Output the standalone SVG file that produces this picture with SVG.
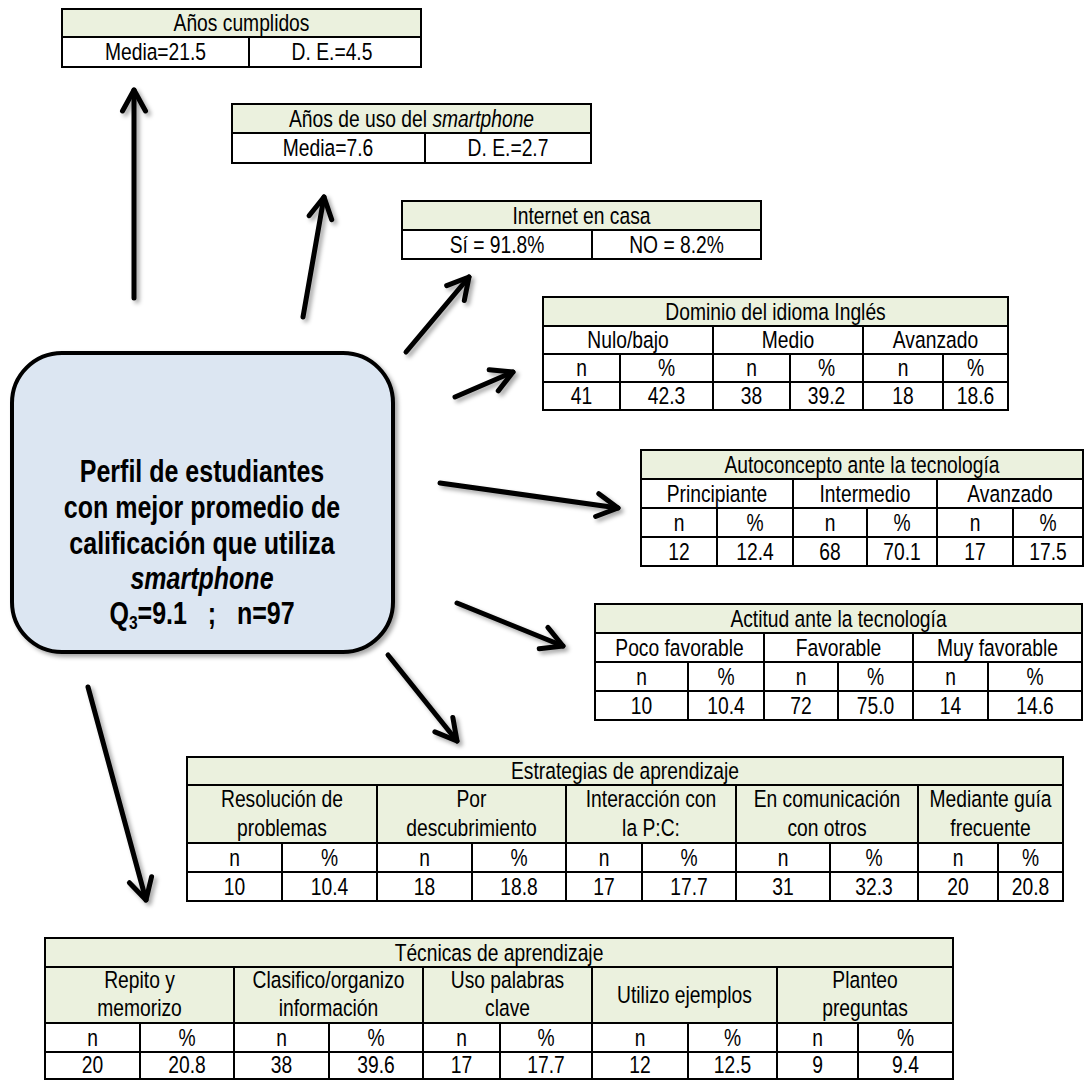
<svg xmlns="http://www.w3.org/2000/svg" width="1088" height="1080" viewBox="0 0 1088 1080">
<defs>
<style>
.t{font-family:'Liberation Sans',Arial,sans-serif;font-size:23.5px;text-anchor:middle;fill:#000}
.c{font-family:'Liberation Sans',Arial,sans-serif;font-size:30.5px;font-weight:bold;text-anchor:middle;fill:#000;white-space:pre}
.g{fill:#ebf1de;stroke:#000;stroke-width:2}
.w{fill:#fff;stroke:#000;stroke-width:2}
.a{fill:none;stroke:#000;stroke-width:5;stroke-linecap:round;marker-end:url(#ah)}
</style>
<marker id="ah" markerUnits="userSpaceOnUse" viewBox="-30 -16 36 32" refX="0" refY="0" markerWidth="36" markerHeight="32" orient="auto">
<path d="M-21,-11.5 L0,0 L-21,11.5" fill="none" stroke="#000" stroke-width="5" stroke-linecap="round" stroke-linejoin="round"/>
</marker>
<filter id="sh" x="-20%" y="-20%" width="140%" height="140%">
<feDropShadow dx="3" dy="3" stdDeviation="2" flood-color="#000" flood-opacity="0.35"/>
</filter>
</defs>
<rect width="1088" height="1080" fill="#fff"/>

<g id="connectors" filter="url(#sh)">
<path class="a" d="M134,298 L134,90"/>
<path class="a" d="M303,317 L324,197"/>
<path class="a" d="M406,352 L469,277"/>
<path class="a" d="M455,397 L513,372"/>
<path class="a" d="M440,483 L618,508"/>
<path class="a" d="M457,603 L563,646"/>
<path class="a" d="M388,655 L457,741"/>
<path class="a" d="M88,687 L146,900"/>
</g>

<g id="centro">
<rect x="12" y="353" width="381" height="299" rx="50" ry="50" fill="#dce6f2" stroke="#000" stroke-width="4" filter="url(#sh)"/>
<text class="c" transform="translate(202 482) scale(.82 1)">Perfil de estudiantes</text>
<text class="c" transform="translate(202 518) scale(.82 1)">con mejor promedio de</text>
<text class="c" transform="translate(202 554) scale(.82 1)">calificación que utiliza</text>
<text class="c" transform="translate(202 589) scale(.82 1)" font-style="italic">smartphone</text>
<text class="c" transform="translate(202 624) scale(.82 1)">Q<tspan font-size="19px" dy="5">3</tspan><tspan dy="-5">=9.1   ;   n=97</tspan></text>
</g>

<g id="anios">
<rect class="g" x="62" y="9" width="359" height="28"/>
<rect class="w" x="62" y="37" width="187" height="30"/>
<rect class="w" x="249" y="37" width="172" height="30"/>
<text class="t" transform="translate(241.5 31) scale(.82 1)">Años cumplidos</text>
<text class="t" transform="translate(155.5 60) scale(.82 1)">Media=21.5</text>
<text class="t" transform="translate(332 60) scale(.82 1)">D. E.=4.5</text>
</g>

<g id="uso">
<rect class="g" x="232" y="104" width="359" height="29"/>
<rect class="w" x="232" y="133" width="193" height="30"/>
<rect class="w" x="425" y="133" width="166" height="30"/>
<text class="t" transform="translate(411.5 126.5) scale(.82 1)">Años de uso del <tspan font-style="italic">smartphone</tspan></text>
<text class="t" transform="translate(328 156) scale(.82 1)">Media=7.6</text>
<text class="t" transform="translate(508 156) scale(.82 1)">D. E.=2.7</text>
</g>

<g id="internet">
<rect class="g" x="402" y="201" width="359" height="29"/>
<rect class="w" x="402" y="230" width="190" height="29"/>
<rect class="w" x="592" y="230" width="169" height="29"/>
<text class="t" transform="translate(581.5 223.5) scale(.82 1)">Internet en casa</text>
<text class="t" transform="translate(497 252.5) scale(.82 1)">Sí = 91.8%</text>
<text class="t" transform="translate(676.5 252.5) scale(.82 1)">NO = 8.2%</text>
</g>

<g id="ingles">
<rect class="g" x="543" y="297" width="465" height="29"/>
<rect class="w" x="543" y="326" width="170" height="28"/>
<rect class="w" x="713" y="326" width="150" height="28"/>
<rect class="w" x="863" y="326" width="145" height="28"/>
<rect class="w" x="543" y="354" width="77" height="28"/>
<rect class="w" x="620" y="354" width="93" height="28"/>
<rect class="w" x="713" y="354" width="77" height="28"/>
<rect class="w" x="790" y="354" width="73" height="28"/>
<rect class="w" x="863" y="354" width="80" height="28"/>
<rect class="w" x="943" y="354" width="65" height="28"/>
<rect class="w" x="543" y="382" width="77" height="28"/>
<rect class="w" x="620" y="382" width="93" height="28"/>
<rect class="w" x="713" y="382" width="77" height="28"/>
<rect class="w" x="790" y="382" width="73" height="28"/>
<rect class="w" x="863" y="382" width="80" height="28"/>
<rect class="w" x="943" y="382" width="65" height="28"/>
<text class="t" transform="translate(775.5 319.5) scale(.82 1)">Dominio del idioma Inglés</text>
<text class="t" transform="translate(628 348) scale(.82 1)">Nulo/bajo</text>
<text class="t" transform="translate(788 348) scale(.82 1)">Medio</text>
<text class="t" transform="translate(935.5 348) scale(.82 1)">Avanzado</text>
<text class="t" transform="translate(581.5 376) scale(.82 1)">n</text><text class="t" transform="translate(666.5 376) scale(.82 1)">%</text>
<text class="t" transform="translate(751.5 376) scale(.82 1)">n</text><text class="t" transform="translate(826.5 376) scale(.82 1)">%</text>
<text class="t" transform="translate(903 376) scale(.82 1)">n</text><text class="t" transform="translate(975.5 376) scale(.82 1)">%</text>
<text class="t" transform="translate(581.5 404) scale(.82 1)">41</text><text class="t" transform="translate(666.5 404) scale(.82 1)">42.3</text>
<text class="t" transform="translate(751.5 404) scale(.82 1)">38</text><text class="t" transform="translate(826.5 404) scale(.82 1)">39.2</text>
<text class="t" transform="translate(903 404) scale(.82 1)">18</text><text class="t" transform="translate(975.5 404) scale(.82 1)">18.6</text>
</g>

<g id="autoconcepto">
<rect class="g" x="641" y="450" width="442" height="29"/>
<rect class="w" x="641" y="479" width="152" height="29"/>
<rect class="w" x="793" y="479" width="144" height="29"/>
<rect class="w" x="937" y="479" width="146" height="29"/>
<rect class="w" x="641" y="508" width="76" height="29"/>
<rect class="w" x="717" y="508" width="76" height="29"/>
<rect class="w" x="793" y="508" width="74" height="29"/>
<rect class="w" x="867" y="508" width="70" height="29"/>
<rect class="w" x="937" y="508" width="76" height="29"/>
<rect class="w" x="1013" y="508" width="70" height="29"/>
<rect class="w" x="641" y="537" width="76" height="29"/>
<rect class="w" x="717" y="537" width="76" height="29"/>
<rect class="w" x="793" y="537" width="74" height="29"/>
<rect class="w" x="867" y="537" width="70" height="29"/>
<rect class="w" x="937" y="537" width="76" height="29"/>
<rect class="w" x="1013" y="537" width="70" height="29"/>
<text class="t" transform="translate(862 472.5) scale(.82 1)">Autoconcepto ante la tecnología</text>
<text class="t" transform="translate(717 501.5) scale(.82 1)">Principiante</text>
<text class="t" transform="translate(865 501.5) scale(.82 1)">Intermedio</text>
<text class="t" transform="translate(1010 501.5) scale(.82 1)">Avanzado</text>
<text class="t" transform="translate(679 530.5) scale(.82 1)">n</text><text class="t" transform="translate(755 530.5) scale(.82 1)">%</text>
<text class="t" transform="translate(830 530.5) scale(.82 1)">n</text><text class="t" transform="translate(902 530.5) scale(.82 1)">%</text>
<text class="t" transform="translate(975 530.5) scale(.82 1)">n</text><text class="t" transform="translate(1048 530.5) scale(.82 1)">%</text>
<text class="t" transform="translate(679 559.5) scale(.82 1)">12</text><text class="t" transform="translate(755 559.5) scale(.82 1)">12.4</text>
<text class="t" transform="translate(830 559.5) scale(.82 1)">68</text><text class="t" transform="translate(902 559.5) scale(.82 1)">70.1</text>
<text class="t" transform="translate(975 559.5) scale(.82 1)">17</text><text class="t" transform="translate(1048 559.5) scale(.82 1)">17.5</text>
</g>

<g id="actitud">
<rect class="g" x="595" y="604" width="487" height="29"/>
<rect class="w" x="595" y="633" width="169" height="29"/>
<rect class="w" x="764" y="633" width="149" height="29"/>
<rect class="w" x="913" y="633" width="169" height="29"/>
<rect class="w" x="595" y="662" width="93" height="29"/>
<rect class="w" x="688" y="662" width="76" height="29"/>
<rect class="w" x="764" y="662" width="74" height="29"/>
<rect class="w" x="838" y="662" width="75" height="29"/>
<rect class="w" x="913" y="662" width="75" height="29"/>
<rect class="w" x="988" y="662" width="94" height="29"/>
<rect class="w" x="595" y="691" width="93" height="29"/>
<rect class="w" x="688" y="691" width="76" height="29"/>
<rect class="w" x="764" y="691" width="74" height="29"/>
<rect class="w" x="838" y="691" width="75" height="29"/>
<rect class="w" x="913" y="691" width="75" height="29"/>
<rect class="w" x="988" y="691" width="94" height="29"/>
<text class="t" transform="translate(838.5 626.5) scale(.82 1)">Actitud ante la tecnología</text>
<text class="t" transform="translate(679.5 655.5) scale(.82 1)">Poco favorable</text>
<text class="t" transform="translate(838.5 655.5) scale(.82 1)">Favorable</text>
<text class="t" transform="translate(997.5 655.5) scale(.82 1)">Muy favorable</text>
<text class="t" transform="translate(641.5 684.5) scale(.82 1)">n</text><text class="t" transform="translate(726 684.5) scale(.82 1)">%</text>
<text class="t" transform="translate(801 684.5) scale(.82 1)">n</text><text class="t" transform="translate(875.5 684.5) scale(.82 1)">%</text>
<text class="t" transform="translate(950.5 684.5) scale(.82 1)">n</text><text class="t" transform="translate(1035 684.5) scale(.82 1)">%</text>
<text class="t" transform="translate(641.5 713.5) scale(.82 1)">10</text><text class="t" transform="translate(726 713.5) scale(.82 1)">10.4</text>
<text class="t" transform="translate(801 713.5) scale(.82 1)">72</text><text class="t" transform="translate(875.5 713.5) scale(.82 1)">75.0</text>
<text class="t" transform="translate(950.5 713.5) scale(.82 1)">14</text><text class="t" transform="translate(1035 713.5) scale(.82 1)">14.6</text>
</g>

<g id="estrategias">
<rect class="g" x="187" y="757" width="876" height="28"/>
<rect class="g" x="187" y="785" width="190" height="58"/>
<rect class="g" x="377" y="785" width="189" height="58"/>
<rect class="g" x="566" y="785" width="170" height="58"/>
<rect class="g" x="736" y="785" width="182" height="58"/>
<rect class="g" x="918" y="785" width="145" height="58"/>
<rect class="w" x="187" y="843" width="95" height="29"/>
<rect class="w" x="282" y="843" width="95" height="29"/>
<rect class="w" x="377" y="843" width="95" height="29"/>
<rect class="w" x="472" y="843" width="94" height="29"/>
<rect class="w" x="566" y="843" width="76" height="29"/>
<rect class="w" x="642" y="843" width="94" height="29"/>
<rect class="w" x="736" y="843" width="94" height="29"/>
<rect class="w" x="830" y="843" width="88" height="29"/>
<rect class="w" x="918" y="843" width="80" height="29"/>
<rect class="w" x="998" y="843" width="65" height="29"/>
<rect class="w" x="187" y="872" width="95" height="29"/>
<rect class="w" x="282" y="872" width="95" height="29"/>
<rect class="w" x="377" y="872" width="95" height="29"/>
<rect class="w" x="472" y="872" width="94" height="29"/>
<rect class="w" x="566" y="872" width="76" height="29"/>
<rect class="w" x="642" y="872" width="94" height="29"/>
<rect class="w" x="736" y="872" width="94" height="29"/>
<rect class="w" x="830" y="872" width="88" height="29"/>
<rect class="w" x="918" y="872" width="80" height="29"/>
<rect class="w" x="998" y="872" width="65" height="29"/>
<text class="t" transform="translate(625 779) scale(.82 1)">Estrategias de aprendizaje</text>
<text class="t" transform="translate(282 807) scale(.82 1)">Resolución de</text><text class="t" transform="translate(282 836) scale(.82 1)">problemas</text>
<text class="t" transform="translate(471.5 807) scale(.82 1)">Por</text><text class="t" transform="translate(471.5 836) scale(.82 1)">descubrimiento</text>
<text class="t" transform="translate(651 807) scale(.82 1)">Interacción con</text><text class="t" transform="translate(651 836) scale(.82 1)">la P:C:</text>
<text class="t" transform="translate(827 807) scale(.82 1)">En comunicación</text><text class="t" transform="translate(827 836) scale(.82 1)">con otros</text>
<text class="t" transform="translate(990.5 807) scale(.82 1)">Mediante guía</text><text class="t" transform="translate(990.5 836) scale(.82 1)">frecuente</text>
<text class="t" transform="translate(234.5 865.5) scale(.82 1)">n</text><text class="t" transform="translate(329.5 865.5) scale(.82 1)">%</text>
<text class="t" transform="translate(424.5 865.5) scale(.82 1)">n</text><text class="t" transform="translate(519 865.5) scale(.82 1)">%</text>
<text class="t" transform="translate(604 865.5) scale(.82 1)">n</text><text class="t" transform="translate(689 865.5) scale(.82 1)">%</text>
<text class="t" transform="translate(783 865.5) scale(.82 1)">n</text><text class="t" transform="translate(874 865.5) scale(.82 1)">%</text>
<text class="t" transform="translate(958 865.5) scale(.82 1)">n</text><text class="t" transform="translate(1030.5 865.5) scale(.82 1)">%</text>
<text class="t" transform="translate(234.5 894.5) scale(.82 1)">10</text><text class="t" transform="translate(329.5 894.5) scale(.82 1)">10.4</text>
<text class="t" transform="translate(424.5 894.5) scale(.82 1)">18</text><text class="t" transform="translate(519 894.5) scale(.82 1)">18.8</text>
<text class="t" transform="translate(604 894.5) scale(.82 1)">17</text><text class="t" transform="translate(689 894.5) scale(.82 1)">17.7</text>
<text class="t" transform="translate(783 894.5) scale(.82 1)">31</text><text class="t" transform="translate(874 894.5) scale(.82 1)">32.3</text>
<text class="t" transform="translate(958 894.5) scale(.82 1)">20</text><text class="t" transform="translate(1030.5 894.5) scale(.82 1)">20.8</text>
</g>

<g id="tecnicas">
<rect class="g" x="45" y="938" width="908" height="29"/>
<rect class="g" x="45" y="967" width="189" height="56"/>
<rect class="g" x="234" y="967" width="189" height="56"/>
<rect class="g" x="423" y="967" width="169" height="56"/>
<rect class="g" x="592" y="967" width="185" height="56"/>
<rect class="g" x="777" y="967" width="176" height="56"/>
<rect class="w" x="45" y="1023" width="95" height="29"/>
<rect class="w" x="140" y="1023" width="94" height="29"/>
<rect class="w" x="234" y="1023" width="95" height="29"/>
<rect class="w" x="329" y="1023" width="94" height="29"/>
<rect class="w" x="423" y="1023" width="77" height="29"/>
<rect class="w" x="500" y="1023" width="92" height="29"/>
<rect class="w" x="592" y="1023" width="96" height="29"/>
<rect class="w" x="688" y="1023" width="89" height="29"/>
<rect class="w" x="777" y="1023" width="81" height="29"/>
<rect class="w" x="858" y="1023" width="95" height="29"/>
<rect class="w" x="45" y="1052" width="95" height="27"/>
<rect class="w" x="140" y="1052" width="94" height="27"/>
<rect class="w" x="234" y="1052" width="95" height="27"/>
<rect class="w" x="329" y="1052" width="94" height="27"/>
<rect class="w" x="423" y="1052" width="77" height="27"/>
<rect class="w" x="500" y="1052" width="92" height="27"/>
<rect class="w" x="592" y="1052" width="96" height="27"/>
<rect class="w" x="688" y="1052" width="89" height="27"/>
<rect class="w" x="777" y="1052" width="81" height="27"/>
<rect class="w" x="858" y="1052" width="95" height="27"/>
<text class="t" transform="translate(499 960.5) scale(.82 1)">Técnicas de aprendizaje</text>
<text class="t" transform="translate(139.5 988) scale(.82 1)">Repito y</text><text class="t" transform="translate(139.5 1016) scale(.82 1)">memorizo</text>
<text class="t" transform="translate(328.5 988) scale(.82 1)">Clasifico/organizo</text><text class="t" transform="translate(328.5 1016) scale(.82 1)">información</text>
<text class="t" transform="translate(507.5 988) scale(.82 1)">Uso palabras</text><text class="t" transform="translate(507.5 1016) scale(.82 1)">clave</text>
<text class="t" transform="translate(684.5 1003) scale(.82 1)">Utilizo ejemplos</text>
<text class="t" transform="translate(865 988) scale(.82 1)">Planteo</text><text class="t" transform="translate(865 1016) scale(.82 1)">preguntas</text>
<text class="t" transform="translate(92.5 1045.5) scale(.82 1)">n</text><text class="t" transform="translate(187 1045.5) scale(.82 1)">%</text>
<text class="t" transform="translate(281.5 1045.5) scale(.82 1)">n</text><text class="t" transform="translate(376 1045.5) scale(.82 1)">%</text>
<text class="t" transform="translate(461.5 1045.5) scale(.82 1)">n</text><text class="t" transform="translate(546 1045.5) scale(.82 1)">%</text>
<text class="t" transform="translate(640 1045.5) scale(.82 1)">n</text><text class="t" transform="translate(732.5 1045.5) scale(.82 1)">%</text>
<text class="t" transform="translate(817.5 1045.5) scale(.82 1)">n</text><text class="t" transform="translate(905.5 1045.5) scale(.82 1)">%</text>
<text class="t" transform="translate(92.5 1073) scale(.82 1)">20</text><text class="t" transform="translate(187 1073) scale(.82 1)">20.8</text>
<text class="t" transform="translate(281.5 1073) scale(.82 1)">38</text><text class="t" transform="translate(376 1073) scale(.82 1)">39.6</text>
<text class="t" transform="translate(461.5 1073) scale(.82 1)">17</text><text class="t" transform="translate(546 1073) scale(.82 1)">17.7</text>
<text class="t" transform="translate(640 1073) scale(.82 1)">12</text><text class="t" transform="translate(732.5 1073) scale(.82 1)">12.5</text>
<text class="t" transform="translate(817.5 1073) scale(.82 1)">9</text><text class="t" transform="translate(905.5 1073) scale(.82 1)">9.4</text>
</g>
</svg>
